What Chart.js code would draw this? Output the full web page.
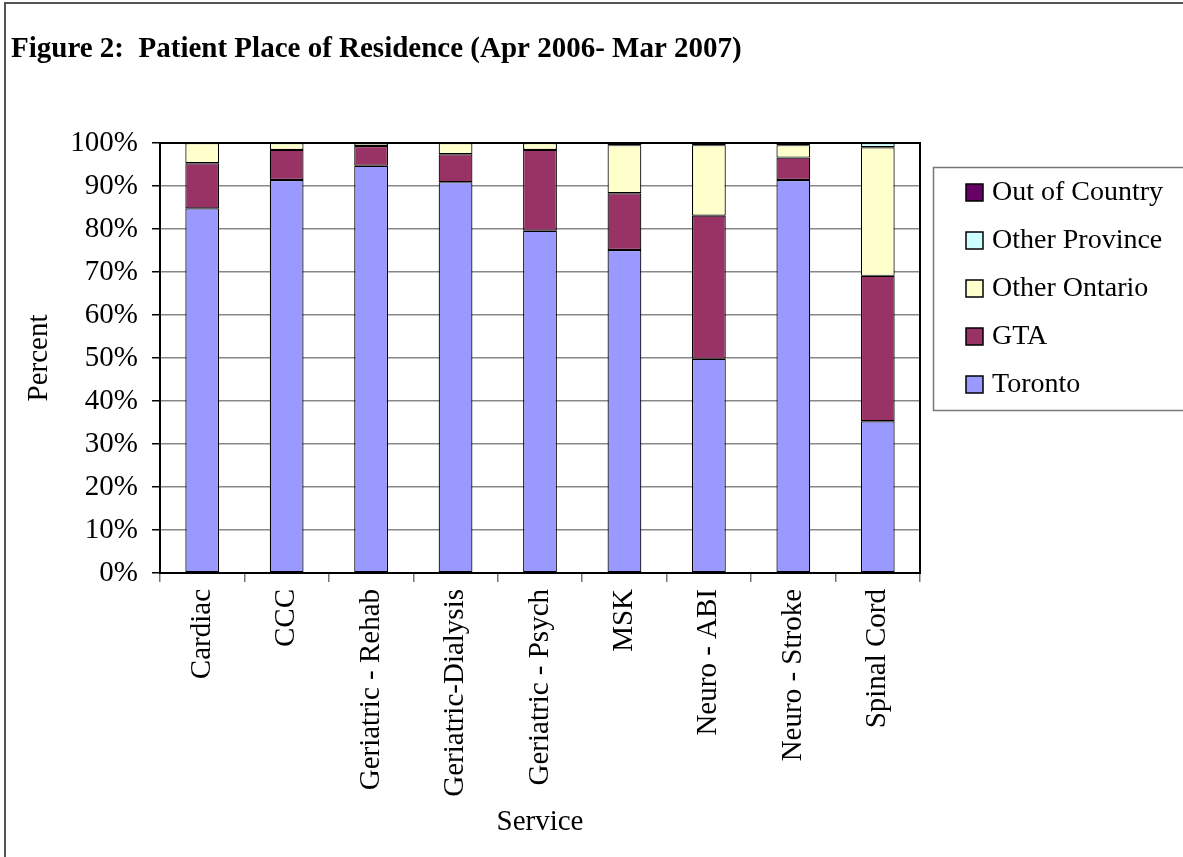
<!DOCTYPE html>
<html lang="en">
<head>
    <meta charset="UTF-8">
    <title>Patient Place of Residence</title>
    <script src="https://cdn.jsdelivr.net/npm/chart.js"></script>
    <style>
        body {
            margin: 0;
            background: white;
        }
        .wrap {
            width: 1183px;
            height: 857px;
            position: relative;
        }
    </style>
</head>
<body>
    <div class="wrap">
        <canvas id="residenceChart" width="1183" height="857"></canvas>
    </div>
    <script>
        const services = ["Cardiac", "CCC", "Geriatric - Rehab", "Geriatric-Dialysis", "Geriatric - Psych", "MSK", "Neuro - ABI", "Neuro - Stroke", "Spinal Cord"];
        const toronto = [84.8, 91.4, 94.7, 90.9, 79.6, 75.1, 49.8, 91.4, 35.3];
        const gta = [10.5, 7.0, 4.6, 6.5, 18.8, 13.2, 33.3, 5.2, 33.8];
        const otherOntario = [4.7, 1.6, 0.7, 2.6, 1.6, 11.2, 16.4, 2.9, 29.9];
        const otherProvince = [0, 0, 0, 0, 0, 0, 0, 0, 1.0];
        const outOfCountry = [0, 0, 0, 0, 0, 0.5, 0.5, 0.5, 0];
        const yTicks = [0, 10, 20, 30, 40, 50, 60, 70, 80, 90, 100];

        const serif = "'Liberation Serif', 'Times New Roman', serif";

        // title, frame and boxed legend drawn on the canvas
        const extras = {
            id: "extras",
            afterDraw(chart) {
                const ctx = chart.ctx;
                const area = chart.chartArea;
                ctx.save();

                // outer frame
                ctx.strokeStyle = "#555";
                ctx.lineWidth = 2;
                ctx.beginPath();
                ctx.moveTo(5, 860);
                ctx.lineTo(5, 3);
                ctx.lineTo(1190, 3);
                ctx.stroke();

                // plot border
                ctx.strokeStyle = "#000";
                ctx.lineWidth = 2;
                ctx.strokeRect(area.left, area.top, area.right - area.left, area.bottom - area.top);

                // title
                ctx.fillStyle = "#000";
                ctx.font = "bold 29px " + serif;
                ctx.textBaseline = "alphabetic";
                ctx.textAlign = "left";
                ctx.fillText("Figure 2:  Patient Place of Residence (Apr 2006- Mar 2007)", 11, 57);

                // legend
                ctx.strokeStyle = "#777";
                ctx.lineWidth = 1.5;
                ctx.strokeRect(933.5, 167.5, 262, 243);
                const sets = chart.data.datasets.slice().reverse();
                ctx.font = "28px " + serif;
                ctx.textBaseline = "middle";
                sets.forEach(function (ds, i) {
                    const y = 192 + i * 48;
                    ctx.fillStyle = ds.backgroundColor;
                    ctx.fillRect(966, y - 8, 17, 17);
                    ctx.strokeStyle = "#000";
                    ctx.lineWidth = 1.5;
                    ctx.strokeRect(966, y - 8, 17, 17);
                    ctx.fillStyle = "#000";
                    ctx.fillText(ds.label, 992, y + 1);
                });
                ctx.restore();
            }
        };

        const ctx = document.getElementById("residenceChart").getContext("2d");
        const chart = new Chart(ctx, {
            type: "bar",
            data: {
                labels: services,
                datasets: [
                    { label: "Toronto", data: toronto, backgroundColor: "#9999FF" },
                    { label: "GTA", data: gta, backgroundColor: "#993366" },
                    { label: "Other Ontario", data: otherOntario, backgroundColor: "#FFFFCC" },
                    { label: "Other Province", data: otherProvince, backgroundColor: "#CCFFFF" },
                    { label: "Out of Country", data: outOfCountry, backgroundColor: "#660066" }
                ]
            },
            options: {
                responsive: false,
                animation: false,
                layout: { padding: { left: 12, top: 143, right: 263, bottom: 0 } },
                datasets: {
                    bar: {
                        borderColor: "#000",
                        // no outline for empty segments
                        borderWidth: c => (c.raw ? 1.2 : 0),
                        borderSkipped: false,
                        categoryPercentage: 1,
                        barPercentage: 0.4
                    }
                },
                plugins: {
                    legend: { display: false },
                    tooltip: { enabled: false }
                },
                scales: {
                    x: {
                        stacked: true,
                        afterFit(scale) { scale.height = 284; },
                        grid: { offset: true, drawOnChartArea: false, tickLength: 9, tickColor: "#777", lineWidth: 1.5 },
                        border: { color: "#000", width: 2 },
                        ticks: {
                            color: "#000",
                            font: { family: serif, size: 29 },
                            minRotation: 90,
                            maxRotation: 90,
                            padding: 7,
                            autoSkip: false
                        },
                        title: {
                            display: true,
                            text: "Service",
                            color: "#000",
                            font: { family: serif, size: 29 },
                            padding: { top: 0, bottom: 17 }
                        }
                    },
                    y: {
                        stacked: true,
                        min: 0,
                        max: 100,
                        afterFit(scale) { scale.width = 148; },
                        afterBuildTicks(scale) { scale.ticks = yTicks.map(v => ({ value: v })); },
                        grid: { color: "#888", lineWidth: 1.5, tickLength: 8, tickColor: "#000" },
                        border: { color: "#000", width: 2 },
                        ticks: {
                            color: "#000",
                            font: { family: serif, size: 29 },
                            padding: 14,
                            callback: v => v + "%"
                        },
                        title: {
                            display: true,
                            text: "Percent",
                            color: "#000",
                            font: { family: serif, size: 29 },
                            padding: { top: 10, bottom: 0 }
                        }
                    }
                }
            },
            plugins: [extras]
        });
    </script>
</body>
</html>
